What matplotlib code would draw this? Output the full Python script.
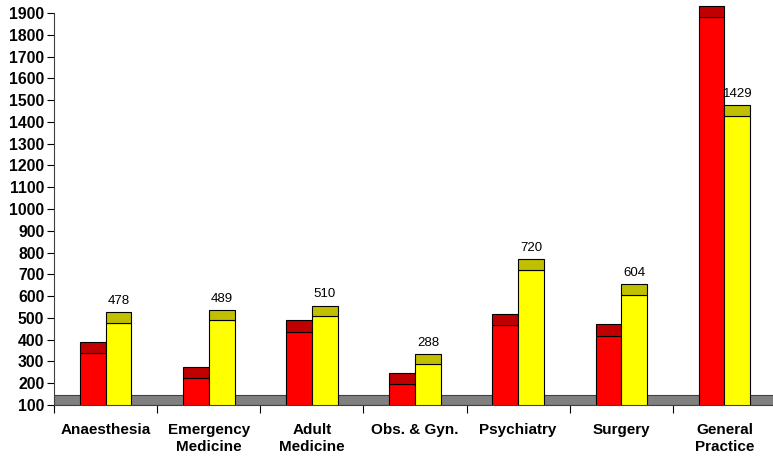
import numpy as np
import matplotlib.pyplot as plt

categories = ['Anaesthesia', 'Emergency\nMedicine', 'Adult\nMedicine', 'Obs. & Gyn.',
              'Psychiatry', 'Surgery', 'General\nPractice']
red_base = [338, 223, 437, 195, 469, 418, 1883]
red_extra = [50, 50, 52, 50, 47, 52, 49]
yellow_base = [478, 489, 510, 288, 720, 604, 1429]
yellow_extra = [48, 46, 46, 45, 49, 50, 47]
floor_top = 146

plt.rcParams['font.family'] = ['Liberation Sans', 'DejaVu Sans']

fig = plt.figure(figsize=(7.73, 4.57), dpi=100)
ax = fig.add_axes([54 / 773, 52 / 457, 722 / 773, 399.6 / 457])

x = np.arange(len(categories))
w = 0.25
ax.axhspan(100, floor_top, color='#808080', ec='#404040', lw=0.8, zorder=1)

ax.bar(x - w / 2, red_base, w, bottom=0, color='#ff0000', ec='black', lw=0.8, zorder=2)
ax.bar(x - w / 2, red_extra, w, bottom=red_base, color='#c00000', ec='black', lw=0.8, zorder=2)
ax.bar(x + w / 2, yellow_base, w, bottom=0, color='#ffff00', ec='black', lw=0.8, zorder=2)
ax.bar(x + w / 2, yellow_extra, w, bottom=yellow_base, color='#c0c000', ec='black', lw=0.8, zorder=2)

for xi, yb, ye in zip(x, yellow_base, yellow_extra):
    ax.text(xi + w / 2, yb + ye + 25, str(yb), ha='center', va='bottom', fontsize=9.5)

ax.set_xlim(-0.5, len(categories) - 0.5)
ax.set_ylim(100, 1935)
ax.set_yticks(np.arange(100, 2000, 100))
ax.tick_params(axis='y', labelsize=11.3, length=5, width=0.8, pad=2)
for lbl in ax.get_yticklabels():
    lbl.set_fontweight('bold')

ax.set_xticks(np.arange(len(categories) + 1) - 0.5)
ax.set_xticklabels([])
ax.tick_params(axis='x', length=6, width=0.8)
ax.set_xticks(x, minor=True)
ax.set_xticklabels(categories, minor=True, fontsize=11, fontweight='bold', linespacing=1.25)
ax.tick_params(axis='x', which='minor', length=0, pad=13)

ax.spines['top'].set_visible(False)
ax.spines['right'].set_visible(False)
ax.spines['left'].set_bounds(100, 1900)
ax.spines['left'].set_color('#404040')
ax.spines['bottom'].set_color('#404040')

fig.savefig('out.png', dpi=100)
